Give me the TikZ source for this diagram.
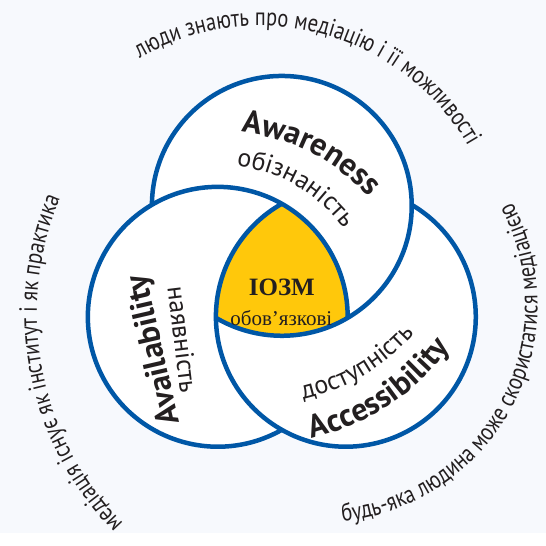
\documentclass[tikz,border=0pt]{standalone}
\usepackage{fontspec}
\setmainfont{PT Sans}
\newfontfamily\arcfont{PT Sans}[FakeStretch=0.82]
\newfontfamily\serfont{Liberation Serif}
\usetikzlibrary{decorations.text}
\definecolor{ringblue}{HTML}{0057A6}
\definecolor{coreyellow}{HTML}{FFC80B}
\definecolor{paper}{HTML}{F7F9FD}
\definecolor{ink}{HTML}{231F20}
\newcommand\arctext{\arcfont\fontsize{25}{25}\selectfont}
\newcommand\boldlbl{\bfseries\fontsize{32}{32}\selectfont}
\newcommand\plainlbl{\fontsize{26}{26}\selectfont}

\begin{document}
\begin{tikzpicture}[x=1pt,y=1pt,
    ring/.style={ringblue,line width=4.5pt},
    along/.style={decorate,decoration={text along path,text align=center,
      text color=ink,text={#1}}}]
  \fill[paper] (0,0) rectangle (546,533);
  % three circles round the middle
  \coordinate (mid) at (282,253);
  \path (mid) ++(90:74) coordinate (top);
  \path (mid) ++(210:74) coordinate (left);
  \path (mid) ++(330:74) coordinate (right);
  \fill[white] (top) circle[radius=130] (left) circle[radius=130]
    (right) circle[radius=130];
  \begin{scope}
    \clip (top) circle[radius=130];
    \clip (left) circle[radius=130];
    \fill[coreyellow] (right) circle[radius=130];
  \end{scope}
  \draw[ring] (top) ++(179.5:130) arc[start angle=179.5,end angle=-120.5,radius=130];
  \draw[ring] (left) ++(299.5:130) arc[start angle=299.5,end angle=-0.5,radius=130];
  \draw[ring] (right) ++(59.5:130) arc[start angle=59.5,end angle=-240.5,radius=130];
  % labels inside
  \node[text=ink,font=\serfont\bfseries\fontsize{25}{25}\selectfont] (core) at (282,245) {ІОЗМ};
  \node[text=ink,font=\serfont\fontsize{21}{21}\selectfont] (coresub) at (281.5,215) {обов’язкові};
  \node[text=ink,font=\boldlbl,rotate=103] (avail) at (155,183) {Availability};
  \node[text=ink,font=\plainlbl,rotate=-83] (availsub) at (183,193) {наявність};
  \path[along={|\boldlbl|Awareness}] (233,402) to[bend left=20] (375,330);
  \path[along={|\plainlbl|обізнаність}] (231,368) to[bend left=22] (348,300);
  \path[along={|\plainlbl|доступність}] (293,131) to[bend right=18] (422,207);
  \path[along={|\boldlbl|Accessibility}] (300,91) to[bend right=20] (458,195);
  % text round the outside
  \path[along={|\arctext|люди знають про медіацію і її можливості}]
    (260,266) ++(126:241) arc[start angle=126,end angle=24,radius=241];
  \path[along={|\arctext|медіація існує як інститут і як практика}]
    (336,219) ++(231:299) arc[start angle=231,end angle=151,radius=299];
  \path[along={|\arctext|будь-яка людина може скористатися медіацією}]
    (320,228) ++(-93:218) arc[start angle=-93,end angle=37,radius=218];
\end{tikzpicture}
\end{document}
